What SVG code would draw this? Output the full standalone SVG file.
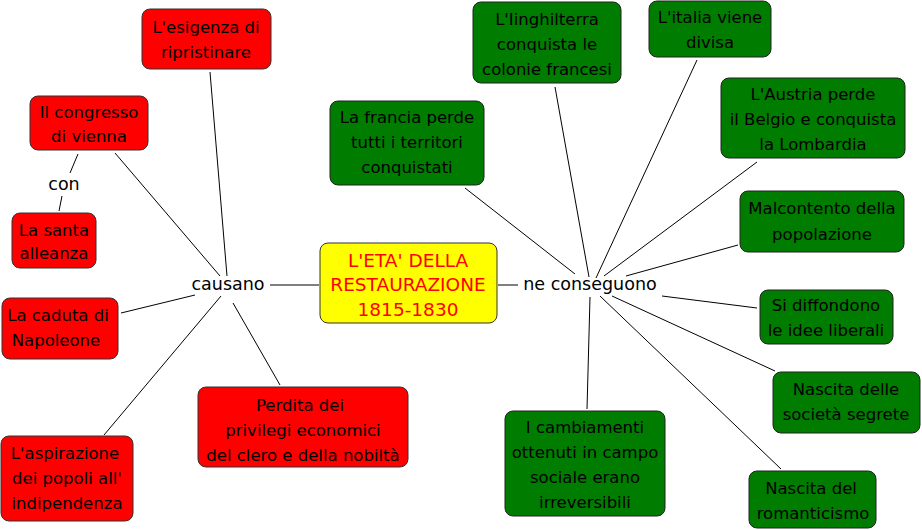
<svg xmlns="http://www.w3.org/2000/svg" width="922" height="530" viewBox="0 0 922 530">
<style>
.r rect{fill:#ff0000;stroke:#333;stroke-width:1}
.g rect{fill:#007c00;stroke:#222;stroke-width:1}
.n text{font-family:"DejaVu Sans","Liberation Sans",sans-serif;font-size:16.5px;fill:#000;text-anchor:middle}
.c text{font-family:"DejaVu Sans",sans-serif;font-size:17.5px;fill:#000;text-anchor:middle}
#center rect{fill:#ffff00;stroke:#333;stroke-width:1}
#center text{font-family:"DejaVu Sans",sans-serif;font-size:18.5px;fill:#ff0000;text-anchor:middle}
#links line{stroke:#000;stroke-width:1}
</style>
<rect width="922" height="530" fill="#fff"/>
<g id="links">
<line x1="270" y1="285" x2="319" y2="285"/>
<line x1="498" y1="285" x2="518" y2="285"/>
<line x1="210" y1="72" x2="227" y2="276"/>
<line x1="115" y1="153" x2="220" y2="276"/>
<line x1="78" y1="154" x2="70" y2="173"/>
<line x1="62" y1="196" x2="59" y2="211"/>
<line x1="121" y1="313" x2="195" y2="295"/>
<line x1="104" y1="435" x2="221" y2="296"/>
<line x1="233" y1="303" x2="280" y2="385"/>
<line x1="465" y1="188" x2="575" y2="274"/>
<line x1="555" y1="87" x2="589" y2="277"/>
<line x1="697" y1="60" x2="596" y2="278"/>
<line x1="757" y1="162" x2="604" y2="276"/>
<line x1="738" y1="245" x2="626" y2="276"/>
<line x1="757" y1="308" x2="662" y2="296"/>
<line x1="775" y1="371" x2="612" y2="296"/>
<line x1="781" y1="469" x2="600" y2="296"/>
<line x1="587" y1="409" x2="590" y2="297"/>
</g>
<g id="center">
<rect x="320" y="243" width="177" height="80" rx="8"/>
<text x="408" y="267">L'ETA' DELLA</text>
<text x="408" y="291">RESTAURAZIONE</text>
<text x="408" y="316">1815-1830</text>
</g>
<g id="causano" class="c"><text x="228" y="290">causano</text></g>
<g id="neconseguono" class="c"><text x="590" y="290">ne conseguono</text></g>
<g id="con" class="c"><text x="64" y="190">con</text></g>
<g id="r1" class="n r"><rect x="142" y="9" width="129" height="60" rx="8"/><text x="206" y="33">L'esigenza di</text><text x="206" y="58">ripristinare</text></g>
<g id="r2" class="n r"><rect x="30" y="96" width="118" height="54" rx="8"/><text x="89" y="118">Il congresso</text><text x="89" y="142">di vienna</text></g>
<g id="r3" class="n r"><rect x="12" y="213" width="84" height="55" rx="8"/><text x="54" y="236">La santa</text><text x="54" y="259">alleanza</text></g>
<g id="r4" class="n r"><rect x="2" y="298" width="116" height="61" rx="8"/><text x="58" y="321">La caduta di</text><text x="56" y="346">Napoleone</text></g>
<g id="r5" class="n r"><rect x="1" y="436" width="132" height="85" rx="8"/><text x="65" y="459">L'aspirazione</text><text x="67" y="484">dei popoli all'</text><text x="67" y="509">indipendenza</text></g>
<g id="r6" class="n r"><rect x="198" y="387" width="210" height="80" rx="8"/><text x="300" y="411">Perdita dei</text><text x="303" y="436">privilegi economici</text><text x="303" y="461">del clero e della nobiltà</text></g>
<g id="g1" class="n g"><rect x="330" y="101" width="154" height="84" rx="8"/><text x="407" y="123">La francia perde</text><text x="407" y="148">tutti i territori</text><text x="407" y="173">conquistati</text></g>
<g id="g2" class="n g"><rect x="473" y="2" width="148" height="81" rx="8"/><text x="547" y="25">L'Iinghilterra</text><text x="547" y="50">conquista le</text><text x="547" y="75">colonie francesi</text></g>
<g id="g3" class="n g"><rect x="649" y="1" width="122" height="56" rx="8"/><text x="710" y="23">L'italia viene</text><text x="710" y="48">divisa</text></g>
<g id="g4" class="n g"><rect x="721" y="78" width="184" height="80" rx="8"/><text x="813" y="100">L'Austria perde</text><text x="813" y="125">il Belgio e conquista</text><text x="813" y="150">la Lombardia</text></g>
<g id="g5" class="n g"><rect x="740" y="191" width="164" height="61" rx="8"/><text x="822" y="214">Malcontento della</text><text x="822" y="240">popolazione</text></g>
<g id="g6" class="n g"><rect x="760" y="290" width="133" height="54" rx="8"/><text x="826" y="311">Si diffondono</text><text x="826" y="336">le idee liberali</text></g>
<g id="g7" class="n g"><rect x="773" y="372" width="147" height="61" rx="8"/><text x="846" y="395">Nascita delle</text><text x="846" y="420">società segrete</text></g>
<g id="g8" class="n g"><rect x="749" y="471" width="127" height="57" rx="8"/><text x="811" y="494">Nascita del</text><text x="813" y="519">romanticismo</text></g>
<g id="g9" class="n g"><rect x="505" y="411" width="160" height="105" rx="8"/><text x="585" y="433">I cambiamenti</text><text x="585" y="458">ottenuti in campo</text><text x="585" y="483">sociale erano</text><text x="585" y="508">irreversibili</text></g>
</svg>
